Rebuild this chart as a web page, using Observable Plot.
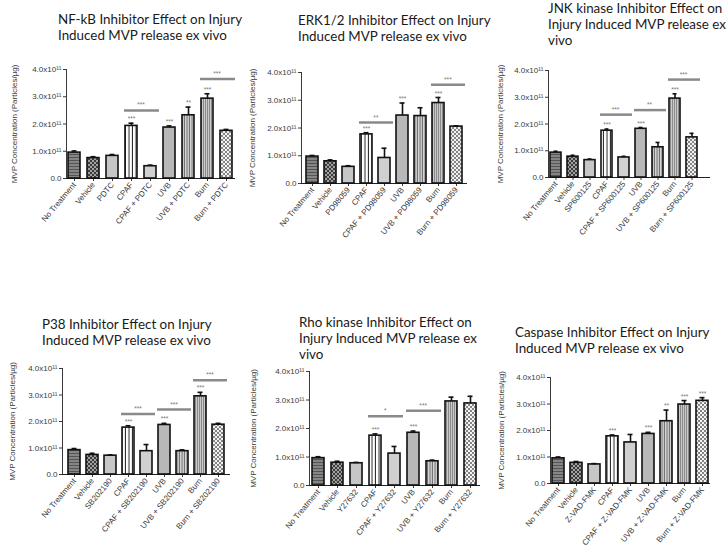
<!DOCTYPE html>
<html><head><meta charset="utf-8">
<script src="https://cdn.jsdelivr.net/npm/d3@7"></script>
<script src="https://cdn.jsdelivr.net/npm/@observablehq/plot@0.6"></script>
<style>
html,body{margin:0;padding:0;background:#fff;}
#wrap{position:relative;width:728px;height:548px;overflow:hidden;background:#fff;}
.title{position:absolute;font-family:Lato,"Open Sans",sans-serif;line-height:16px;color:#1a1a1a;white-space:nowrap;}
svg.panel{position:absolute;overflow:visible;}
</style></head><body>
<svg width="0" height="0" style="position:absolute"><defs>
<pattern id="p-nt" width="4" height="3" patternUnits="userSpaceOnUse"><rect width="4" height="3" fill="#858585"/><rect y="2" width="4" height="1" fill="#555"/></pattern>
<pattern id="p-veh" width="4" height="4" patternUnits="userSpaceOnUse"><rect width="4" height="4" fill="#a0a0a0"/><rect width="2" height="2" fill="#3c3c3c"/><rect x="2" y="2" width="2" height="2" fill="#3c3c3c"/></pattern>
<pattern id="p-cpaf" width="3.5" height="4" patternUnits="userSpaceOnUse"><rect width="3.5" height="4" fill="#fff"/><rect x="2.5" width="1" height="4" fill="#222"/></pattern>
<pattern id="p-uvbi" width="2.5" height="4" patternUnits="userSpaceOnUse"><rect width="2.5" height="4" fill="#d6d6d6"/><rect x="1.5" width="1" height="4" fill="#6a6a6a"/></pattern>
<pattern id="p-burn" width="2" height="4" patternUnits="userSpaceOnUse"><rect width="2" height="4" fill="#cacaca"/><rect x="1" width="1" height="4" fill="#8a8a8a"/></pattern>
<pattern id="p-burni" width="4" height="4" patternUnits="userSpaceOnUse"><rect width="4" height="4" fill="#f2f2f2"/><path d="M0,0L4,4M4,0L0,4" stroke="#6a6a6a" stroke-width="0.8"/></pattern>
</defs></svg>
<div id="wrap"></div>
<script>
// ---------- data ----------
const baseCategories = ["No Treatment","Vehicle","{i}","CPAF","CPAF + {i}","UVB","UVB + {i}","Burn","Burn + {i}"];
const yTicks = [0, 1, 2, 3, 4]; // ×10^11 particles/µg
const yLabel = "MVP Concentration (Particles/µg)";

const nfkbTitle = ["NF-kB Inhibitor Effect on Injury", "Induced MVP release ex vivo"];
const nfkbInhibitor = "PDTC";
const nfkbMean = [0.95, 0.75, 0.83, 1.93, 0.45, 1.87, 2.32, 2.93, 1.75];
const nfkbSem  = [0.06, 0.05, 0.05, 0.10, 0.04, 0.06, 0.30, 0.18, 0.05];
const nfkbStars = ["", "", "", "***", "", "***", "**", "***", ""];
const nfkbBrackets = [[3, 4, 2.5, "***"], [7, 8, 3.65, "***"]];

const erkTitle = ["ERK1/2 Inhibitor Effect on Injury", "Induced MVP release ex vivo"];
const erkInhibitor = "PD98059";
const erkMean = [0.97, 0.80, 0.60, 1.77, 0.92, 2.45, 2.43, 2.90, 2.05];
const erkSem  = [0.04, 0.05, 0.04, 0.06, 0.35, 0.45, 0.30, 0.20, 0.03];
const erkStars = ["", "", "", "***", "", "***", "", "***", ""];
const erkBrackets = [[3, 4, 2.2, "**"], [7, 8, 3.56, "***"]];

const jnkTitle = ["JNK kinase Inhibitor Effect on", "Injury Induced MVP release ex", "vivo"];
const jnkInhibitor = "SP600125";
const jnkMean = [0.93, 0.78, 0.65, 1.75, 0.75, 1.82, 1.13, 2.95, 1.50];
const jnkSem  = [0.05, 0.05, 0.04, 0.06, 0.04, 0.05, 0.18, 0.18, 0.15];
const jnkStars = ["", "", "", "***", "", "***", "", "***", ""];
const jnkBrackets = [[3, 4, 2.35, "***"], [5, 6, 2.52, "**"], [7, 8, 3.66, "***"]];

const p38Title = ["P38 Inhibitor Effect on Injury", "Induced MVP release ex vivo"];
const p38Inhibitor = "SB202190";
const p38Mean = [0.92, 0.74, 0.71, 1.77, 0.88, 1.87, 0.88, 2.95, 1.88];
const p38Sem  = [0.06, 0.06, 0.03, 0.07, 0.25, 0.06, 0.05, 0.15, 0.05];
const p38Stars = ["", "", "", "***", "", "***", "", "***", ""];
const p38Brackets = [[3, 4, 2.28, "***"], [5, 6, 2.45, "***"], [7, 8, 3.56, "***"]];

const rhoTitle = ["Rho kinase Inhibitor Effect on", "Injury Induced MVP release ex", "vivo"];
const rhoInhibitor = "Y27632";
const rhoMean = [0.96, 0.80, 0.78, 1.75, 1.12, 1.85, 0.85, 2.95, 2.88];
const rhoSem  = [0.05, 0.05, 0.03, 0.06, 0.25, 0.06, 0.04, 0.15, 0.25];
const rhoStars = ["", "", "", "***", "", "***", "", "", ""];
const rhoBrackets = [[3, 4, 2.43, "*"], [5, 6, 2.62, "***"]];

const caspTitle = ["Caspase Inhibitor Effect on Injury", "Induced MVP release ex vivo"];
const caspInhibitor = "Z-VAD-FMK";
const caspMean = [0.95, 0.78, 0.72, 1.78, 1.55, 1.87, 2.35, 2.98, 3.12];
const caspSem  = [0.05, 0.05, 0.03, 0.05, 0.30, 0.06, 0.42, 0.15, 0.12];
const caspStars = ["", "", "", "***", "", "***", "**", "***", "***"];
const caspBrackets = [];

// ---------- styles / layout ----------
const barFills = ["url(#p-nt)", "url(#p-veh)", "#c6c6c6", "url(#p-cpaf)", "#d0d0d0", "#b8b8b8", "url(#p-uvbi)", "url(#p-burn)", "url(#p-burni)"];

const layouts = [
  {x: 0,   y: 50,  w: 243, h: 240, axisX: 66,  axisEnd: 235, y4: 69,  y0: 178, labelX: 11,  tx: 58,  tb: 24,  ext: 0},
  {x: 243, y: 50,  w: 242, h: 240, axisX: 301, axisEnd: 467, y4: 72,  y0: 183, labelX: 249, tx: 298, tb: 25,  ext: 0},
  {x: 485, y: 50,  w: 243, h: 240, axisX: 548, axisEnd: 700, y4: 70,  y0: 177, labelX: 497, tx: 548, tb: 13,  ext: 10},
  {x: 0,   y: 355, w: 243, h: 193, axisX: 62,  axisEnd: 230, y4: 368, y0: 474, labelX: 9,   tx: 42,  tb: 329, ext: 0},
  {x: 243, y: 355, w: 242, h: 193, axisX: 309, axisEnd: 480, y4: 371, y0: 485, labelX: 250, tx: 299, tb: 327, ext: 0},
  {x: 485, y: 355, w: 243, h: 193, axisX: 550, axisEnd: 710, y4: 377, y0: 483, labelX: 498, tx: 515, tb: 337, ext: 0}
];

const panels = [
  {title: nfkbTitle, inhibitor: nfkbInhibitor, mean: nfkbMean, sem: nfkbSem, stars: nfkbStars, brackets: nfkbBrackets},
  {title: erkTitle,  inhibitor: erkInhibitor,  mean: erkMean,  sem: erkSem,  stars: erkStars,  brackets: erkBrackets},
  {title: jnkTitle,  inhibitor: jnkInhibitor,  mean: jnkMean,  sem: jnkSem,  stars: jnkStars,  brackets: jnkBrackets},
  {title: p38Title,  inhibitor: p38Inhibitor,  mean: p38Mean,  sem: p38Sem,  stars: p38Stars,  brackets: p38Brackets},
  {title: rhoTitle,  inhibitor: rhoInhibitor,  mean: rhoMean,  sem: rhoSem,  stars: rhoStars,  brackets: rhoBrackets},
  {title: caspTitle, inhibitor: caspInhibitor, mean: caspMean, sem: caspSem, stars: caspStars, brackets: caspBrackets}
];

const fmt = d => d === 0 ? "0.0" : d.toFixed(1) + "x10\u00b9\u00b9";
const wrap = document.getElementById("wrap");

// fit title font size to the reference line width
const probe = document.createElement("span");
probe.className = "title";
probe.style.fontSize = "100px";
probe.textContent = "Injury Induced MVP release ex";
wrap.appendChild(probe);
const titleSize = 100 * 178 / probe.getBoundingClientRect().width;
probe.remove();

panels.forEach((p, k) => {
  const L = layouts[k];
  // title
  const t = document.createElement("div");
  t.className = "title";
  t.style.fontSize = titleSize + "px";
  t.style.left = L.tx + "px";
  t.innerHTML = '<span class="bl" style="display:inline-block;width:0;height:0;vertical-align:baseline"></span>' + p.title.join("<br>");
  wrap.appendChild(t);
  const blOff = t.querySelector(".bl").offsetTop;
  t.style.top = (L.tb - blOff) + "px";

  const cats = baseCategories.map(c => c.replace("{i}", p.inhibitor));
  const rows = cats.map((c, i) => ({cat: c, mean: p.mean[i], top: p.mean[i] + p.sem[i], star: p.stars[i], fill: barFills[i]}));
  const br = p.brackets.map(([a, b, y, s]) => ({a: cats[a], b: cats[b], y, s}));
  const pi = 0.35, po = 0.1;
  const step = (L.axisEnd - L.axisX) / (cats.length - pi + 2 * po);
  const svg = Plot.plot({
    width: L.w, height: L.h,
    marginLeft: L.axisX - L.x, marginRight: L.x + L.w - L.axisEnd,
    marginTop: L.y4 - L.y, marginBottom: L.y + L.h - L.y0,
    style: {fontFamily: "'Liberation Sans', Arial, sans-serif", fontSize: "8px", color: "#3a3a3a", background: "transparent", overflow: "visible"},
    x: {domain: cats, paddingInner: pi, paddingOuter: po, align: 0.5, tickRotate: -50, tickSize: 3, tickPadding: 2, label: null},
    y: {domain: [0, 4], ticks: yTicks, tickSize: 3, tickPadding: 2, tickFormat: fmt, label: yLabel, labelAnchor: "center", labelArrow: "none", labelOffset: L.axisX - L.labelX, line: true},
    color: {type: "identity"},
    marks: [
      Plot.ruleY([0], {stroke: "#222", strokeWidth: 1.2, insetRight: -L.ext}),
      Plot.barY(rows, {x: "cat", y: "mean", fill: "fill", stroke: "#111", strokeWidth: 1.6}),
      Plot.ruleX(rows, {x: "cat", y1: "mean", y2: "top", stroke: "#111", strokeWidth: 1.6}),
      Plot.tickY(rows, {x: "cat", y: "top", stroke: "#111", strokeWidth: 1.6, inset: 3.5}),
      Plot.text(rows.filter(d => d.star), {x: "cat", y: "top", text: "star", dy: -4, fontSize: 6.5, fill: "#777"}),
      Plot.ruleY(br, {x1: "a", x2: "b", y: "y", stroke: "#8a8a8a", strokeWidth: 2.5, insetLeft: -1, insetRight: -3}),
      Plot.text(br, {x: "a", y: "y", text: "s", dx: step / 2, dy: -5, fontSize: 6.5, fill: "#777"})
    ]
  });
  svg.classList.add("panel");
  svg.style.left = L.x + "px";
  svg.style.top = L.y + "px";
  wrap.appendChild(svg);
});
</script>
</body></html>
